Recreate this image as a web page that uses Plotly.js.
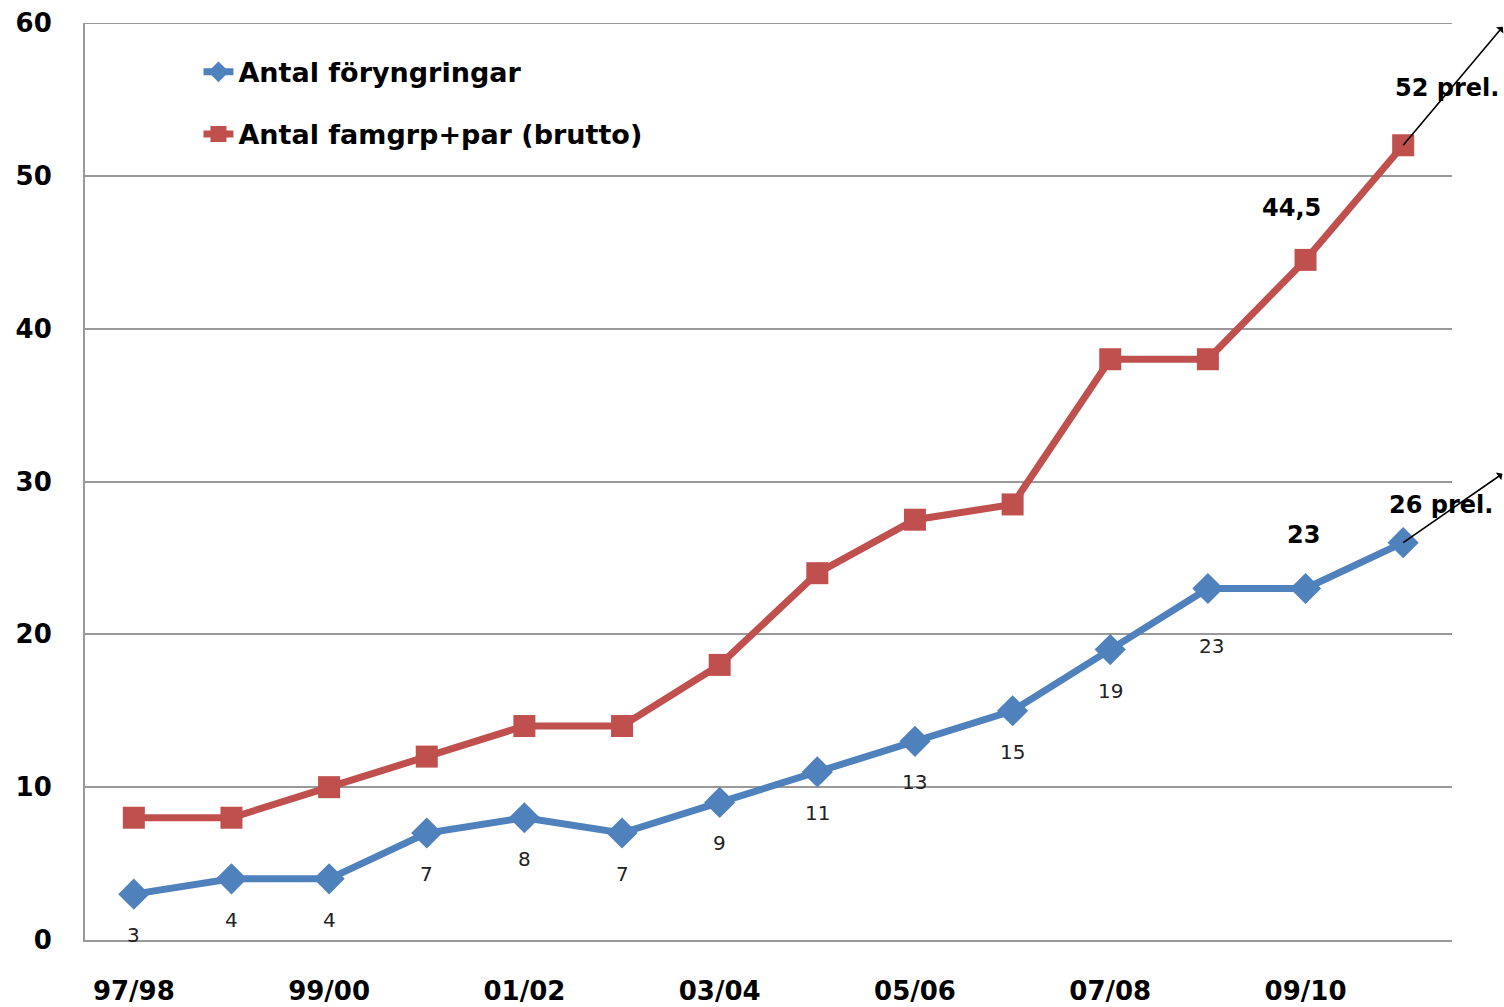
<!DOCTYPE html>
<html>
<head>
<meta charset="utf-8">
<script src="https://cdn.plot.ly/plotly-3.0.1.min.js"></script>
<style>html,body{margin:0;padding:0;background:#fff;}#chart{width:1504px;height:1007px;}</style>
</head>
<body>
<div id="chart"></div>
<script>
// ---- data ----
var categories = ['97/98','98/99','99/00','00/01','01/02','02/03','03/04','04/05','05/06','06/07','07/08','08/09','09/10','10/11'];
var tickLabels = ['97/98','99/00','01/02','03/04','05/06','07/08','09/10'];
var yTicks = [0,10,20,30,40,50,60];
var foryngringar = [3,4,4,7,8,7,9,11,13,15,19,23,23,26];
var famgrp = [8,8,10,12,14,14,18,24,27.5,28.5,38,38,44.5,52];
var foryngringarLabels = ['3','4','4','7','8','7','9','11','13','15','19','23','23','26 prel.'];
var famgrpLabels = ['','','','','','','','','','','','','44,5','52 prel.'];
var seriesNames = ['Antal föryngringar','Antal famgrp+par (brutto)'];

var BLUE = '#4F81BD', RED = '#C0504D';
var FONT = 'DejaVu Sans, sans-serif';

var traces = [
  {x: categories, y: foryngringar, name: seriesNames[0], type: 'scatter', mode: 'lines+markers',
   legendgroup: 'a',
   line: {color: BLUE, width: 7}, marker: {symbol: 'diamond', size: 24, color: BLUE}, cliponaxis: false},
  {x: categories, y: famgrp, name: seriesNames[1], type: 'scatter', mode: 'lines+markers',
   legendgroup: 'b',
   line: {color: RED, width: 7}, marker: {symbol: 'square', size: 22, color: RED}, cliponaxis: false}
];

var annotations = [];
var last = categories.length - 1;
// blue labels: regular below the point, last two bold above
foryngringarLabels.forEach(function(t, i){
  if (!t) return;
  var highlighted = i >= last - 1;
  var xs = 0, ys = -41;
  if (i === last) { xs = 38; ys = 38; }
  else if (i === last - 1) { xs = -2; ys = 53; }
  else if (i === last - 2) { xs = 4; ys = -58; }
  annotations.push({
    x: categories[i], y: foryngringar[i], xref: 'x', yref: 'y', text: t, showarrow: false,
    xanchor: 'center', yanchor: 'middle', xshift: xs, yshift: ys,
    font: highlighted ? {family: FONT, size: 24, color: '#000', weight: 'bold'} : {family: FONT, size: 20, color: '#222'}
  });
});
famgrpLabels.forEach(function(t, i){
  if (!t) return;
  annotations.push({
    x: categories[i], y: famgrp[i], xref: 'x', yref: 'y', text: t, showarrow: false,
    xanchor: 'center', yanchor: 'middle',
    xshift: i === last ? 44 : -14, yshift: i === last ? 57 : 52,
    font: {family: FONT, size: 24, color: '#000', weight: 'bold'}
  });
});
// arrows from the last points toward the upper right
[[famgrp, 103, -120], [foryngringar, 103, -70]].forEach(function(a){
  annotations.push({
    x: categories[last], y: a[0][last], xref: 'x', yref: 'y', text: '', showarrow: true,
    axref: 'pixel', ayref: 'pixel', ax: a[1], ay: a[2],
    arrowside: 'start', arrowhead: 1, arrowsize: 1.8, arrowwidth: 1.6, arrowcolor: '#000',
    standoff: 0, startstandoff: 0
  });
});

var layout = {
  width: 1504, height: 1007,
  margin: {l: 85, r: 52, t: 23, b: 67},
  paper_bgcolor: '#fff', plot_bgcolor: '#fff',
  font: {family: FONT, color: '#000'},
  showlegend: true,
  legend: {x: 0.083, y: 0.973, xanchor: 'left', yanchor: 'top', traceorder: 'grouped', tracegroupgap: 24,
           bgcolor: 'rgba(0,0,0,0)', font: {family: FONT, size: 27, color: '#000', weight: 'bold'}},
  xaxis: {type: 'category', categoryorder: 'array', categoryarray: categories,
          range: [-0.5, categories.length - 0.5],
          tickmode: 'array', tickvals: tickLabels, ticktext: tickLabels,
          showgrid: false, zeroline: false, showline: true, linecolor: '#999', linewidth: 2,
          ticks: '', ticklabelstandoff: 27,
          tickfont: {family: FONT, size: 26, color: '#000', weight: 'bold'}},
  yaxis: {range: [0, 60], tickvals: yTicks, showgrid: true, gridcolor: '#999', gridwidth: 2,
          zeroline: false, showline: true, linecolor: '#999', linewidth: 2, ticks: '', ticklabelstandoff: 26,
          tickfont: {family: FONT, size: 26, color: '#000', weight: 'bold'}},
  shapes: [{type: 'line', xref: 'paper', yref: 'y', x0: 0, x1: 1,
            y0: yTicks[yTicks.length - 1], y1: yTicks[yTicks.length - 1],
            line: {color: '#999', width: 2}, layer: 'below'}],
  annotations: annotations
};

Plotly.newPlot('chart', traces, layout, {displayModeBar: false, staticPlot: true});
</script>
</body>
</html>
